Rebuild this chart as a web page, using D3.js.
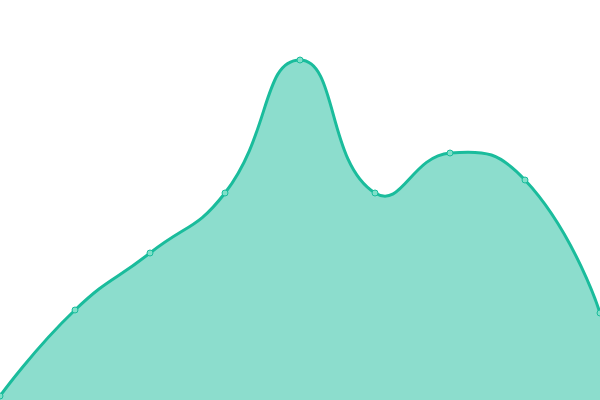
<!DOCTYPE html>
<html>
<head>
<meta charset="utf-8">
<script src="https://cdn.jsdelivr.net/npm/d3@7"></script>
<style>
html,body{margin:0;padding:0;background:#fff;overflow:hidden;}
svg{display:block;}
</style>
</head>
<body>
<svg id="chart" width="600" height="400"></svg>
<script>
const categories = ["A","B","C","D","E","F","G","H","I"];
const values = [4, 90, 147, 207, 340, 207, 247, 220, 87];

const W = 600, H = 400;
const svg = d3.select("#chart");
const x = d3.scalePoint().domain(categories).range([0, W]);
const y = d3.scaleLinear().domain([0, 400]).range([H, 0]);

const data = categories.map((c, i) => ({c, v: values[i]}));

// Smooth curve: control points weighted by neighbouring segment lengths,
// constrained to the bounding box of all points.
function SmoothCurve(context, smooth) { this._context = context; this._s = smooth; }
SmoothCurve.prototype = {
  areaStart() { this._line = 0; },
  areaEnd() { this._line = NaN; },
  lineStart() { this._pts = []; },
  point(px, py) { this._pts.push([+px, +py]); },
  lineEnd() {
    const pts = this._pts, n = pts.length, ctx = this._context, s = this._s;
    if (n) {
      if (this._line) ctx.lineTo(pts[0][0], pts[0][1]); else ctx.moveTo(pts[0][0], pts[0][1]);
      if (n > 1 && s > 0) {
        const xs = pts.map(p => p[0]), ys = pts.map(p => p[1]);
        const mn = [d3.min(xs), d3.min(ys)], mx = [d3.max(xs), d3.max(ys)];
        const cl = (p) => [Math.max(mn[0], Math.min(mx[0], p[0])), Math.max(mn[1], Math.min(mx[1], p[1]))];
        let cp0 = pts[0].slice();
        for (let i = 1; i < n; i++) {
          const p = pts[i], prev = pts[i - 1], next = pts[i + 1];
          let cp1, ratio = 0.5, v = [0, 0];
          if (!next) { cp1 = p.slice(); }
          else {
            v = [next[0] - prev[0], next[1] - prev[1]];
            const lp = Math.hypot(p[0] - prev[0], p[1] - prev[1]);
            const ln = Math.hypot(next[0] - p[0], next[1] - p[1]);
            ratio = ln / (ln + lp);
            cp1 = [p[0] - v[0] * s * (1 - ratio), p[1] - v[1] * s * (1 - ratio)];
          }
          cp0 = cl(cp0); cp1 = cl(cp1);
          ctx.bezierCurveTo(cp0[0], cp0[1], cp1[0], cp1[1], p[0], p[1]);
          cp0 = [p[0] + v[0] * s * ratio, p[1] + v[1] * s * ratio];
        }
      } else {
        for (let i = 1; i < n; i++) ctx.lineTo(pts[i][0], pts[i][1]);
      }
    }
    if (this._line || (this._line !== 0 && n === 1)) ctx.closePath();
    this._line = 1 - this._line;
  }
};
const curve = (ctx) => new SmoothCurve(ctx, 0.5);

const area = d3.area()
  .x(d => x(d.c)).y0(y(0)).y1(d => y(d.v)).curve(curve);
const line = d3.line()
  .x(d => x(d.c)).y(d => y(d.v)).curve(curve);

svg.append("path").datum(data).attr("d", area)
  .attr("fill", "#1abc9c").attr("fill-opacity", 0.5);
svg.append("path").datum(data).attr("d", line)
  .attr("fill", "none").attr("stroke", "#1abc9c").attr("stroke-width", 3);
svg.selectAll("circle.pt").data(data).join("circle")
  .attr("class", "pt")
  .attr("cx", d => x(d.c)).attr("cy", d => y(d.v)).attr("r", 3)
  .attr("fill", "#7fe0c9").attr("stroke", "#1abc9c").attr("stroke-width", 1);
</script>
</body>
</html>
